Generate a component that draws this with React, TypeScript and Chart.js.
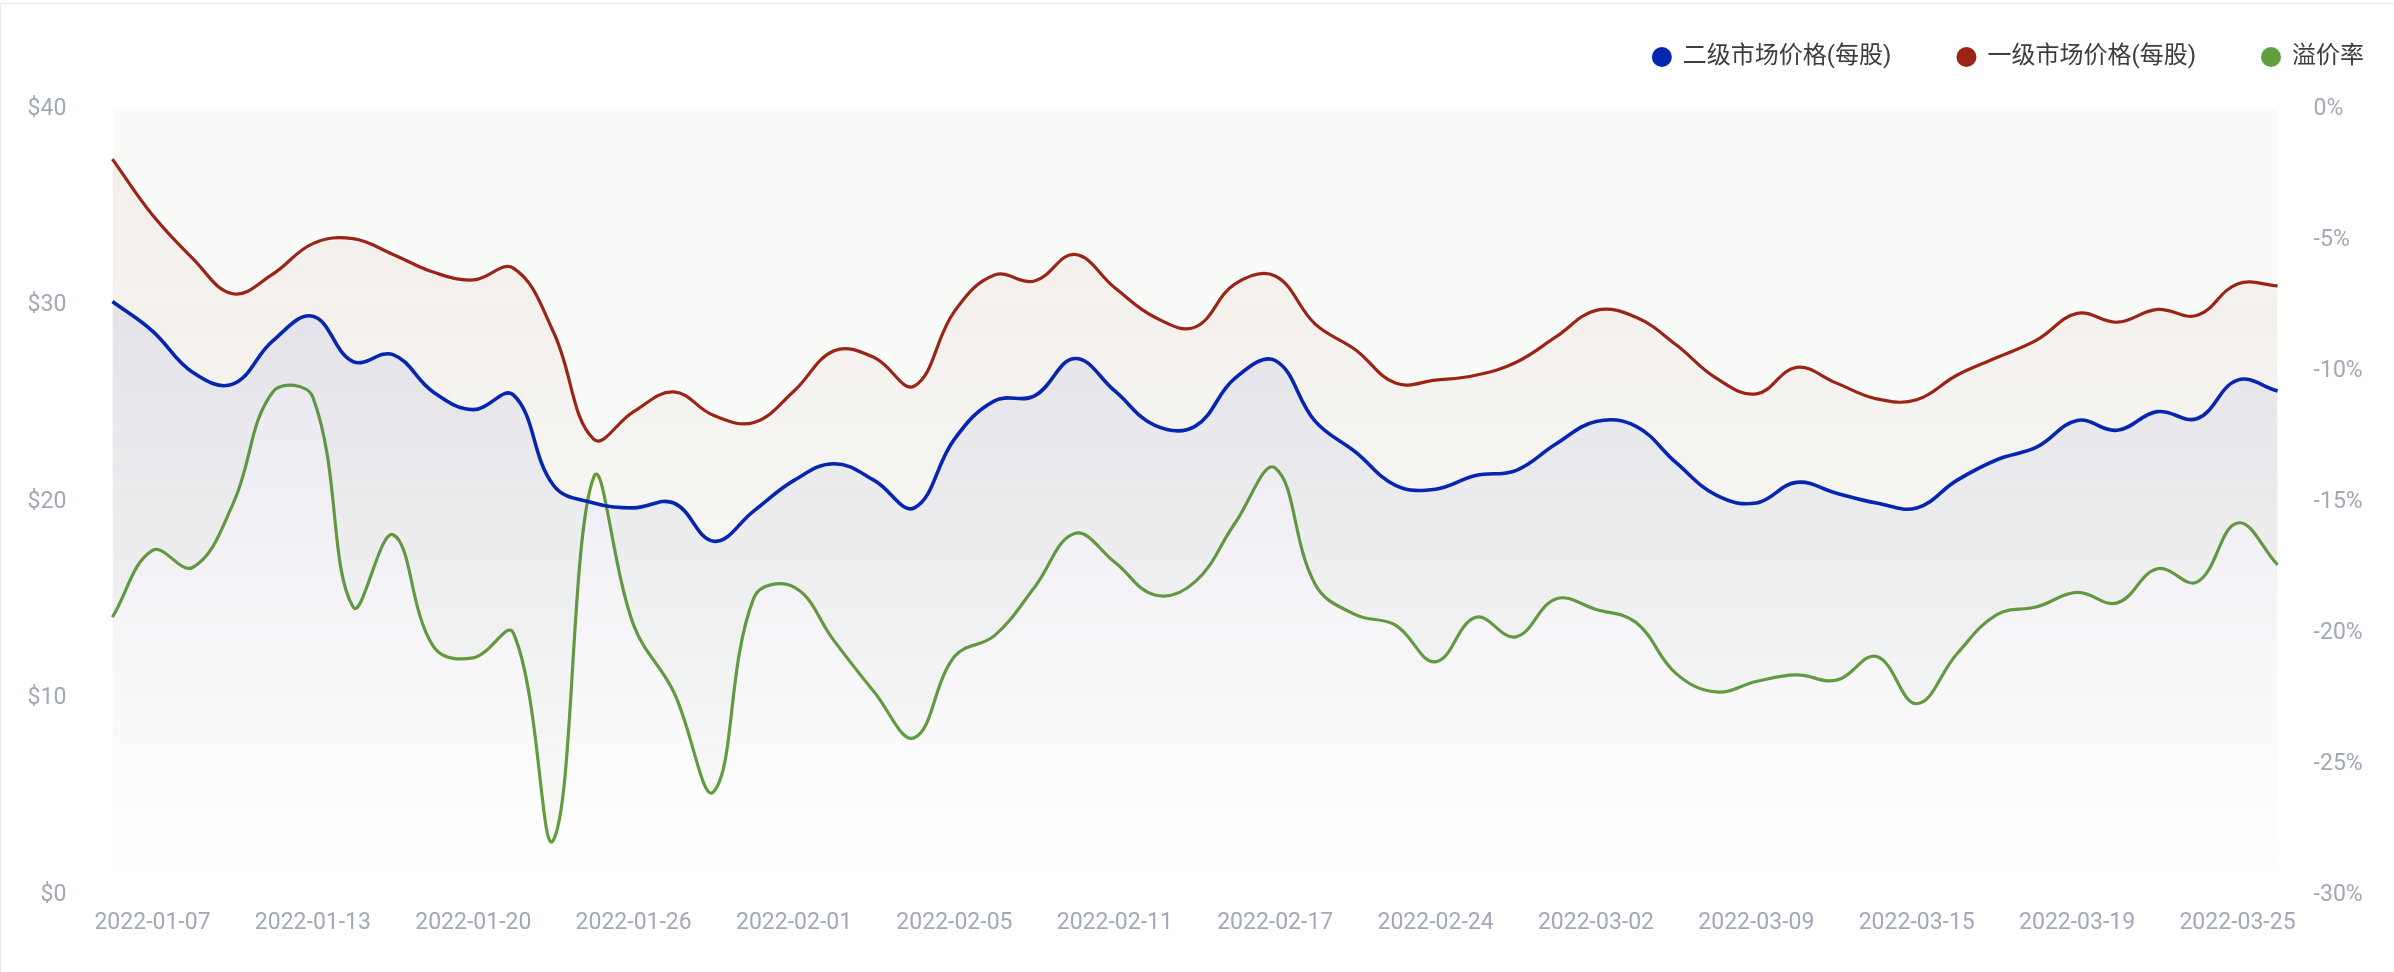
import React, { useEffect, useRef } from 'react';
import { Chart, registerables } from 'chart.js';

Chart.register(...registerables);

// ---- data ----
const dates = [
  '2022-01-06', '2022-01-07', '2022-01-10', '2022-01-11', '2022-01-12', '2022-01-13', '2022-01-14',
  '2022-01-18', '2022-01-19', '2022-01-20', '2022-01-21', '2022-01-24', '2022-01-25', '2022-01-26',
  '2022-01-27', '2022-01-28', '2022-01-31', '2022-02-01', '2022-02-02', '2022-02-03', '2022-02-04',
  '2022-02-05', '2022-02-07', '2022-02-08', '2022-02-10', '2022-02-11', '2022-02-14', '2022-02-15',
  '2022-02-16', '2022-02-17', '2022-02-18', '2022-02-22', '2022-02-23', '2022-02-24', '2022-02-25',
  '2022-02-28', '2022-03-01', '2022-03-02', '2022-03-03', '2022-03-04', '2022-03-08', '2022-03-09',
  '2022-03-10', '2022-03-11', '2022-03-14', '2022-03-15', '2022-03-16', '2022-03-17', '2022-03-18',
  '2022-03-19', '2022-03-21', '2022-03-22', '2022-03-23', '2022-03-25', '2022-03-28',
];

// 二级市场价格(每股)
const secondaryPrice = [
  30.2, 28.7, 26.6, 26.0, 28.2, 29.45, 27.15, 27.5, 25.6, 24.7, 25.45,
  20.85, 19.95, 19.7, 19.95, 18.0, 19.55, 21.1, 21.95, 21.1, 19.7, 23.2,
  25.15, 25.4, 27.3, 25.65, 23.9, 23.85, 26.3, 27.2, 24.1, 22.55, 20.85,
  20.65, 21.35, 21.6, 22.95, 24.1, 23.85, 22.0, 20.35, 19.95, 21.0, 20.45,
  19.95, 19.7, 21.1, 22.15, 22.8, 24.15, 23.65, 24.6, 24.25, 26.2, 25.65,
];

// 一级市场价格(每股)
const primaryPrice = [
  37.45, 34.6, 32.4, 30.6, 31.6, 33.15, 33.4, 32.6, 31.7, 31.3, 31.9,
  28.65, 23.2, 24.6, 25.6, 24.4, 24.05, 25.65, 27.7, 27.35, 25.9, 29.7,
  31.55, 31.25, 32.6, 30.9, 29.4, 28.9, 31.1, 31.5, 29.05, 27.75, 26.05,
  26.2, 26.45, 27.1, 28.4, 29.75, 29.4, 28.0, 26.3, 25.5, 26.85, 26.05,
  25.25, 25.2, 26.45, 27.35, 28.25, 29.6, 29.15, 29.8, 29.5, 31.1, 31.0,
];

// 溢价率 (%)
const premiumRate = [
  -19.4, -16.85, -17.5, -15.1, -10.8, -11.0, -19.0, -16.25, -20.5, -20.95, -20.0,
  -27.9, -14.07, -19.7, -22.25, -26.05, -18.65, -18.25, -20.3, -22.25, -24.0, -20.9,
  -20.1, -18.25, -16.2, -17.3, -18.55, -18.05, -15.8, -13.7, -18.15, -19.3, -19.7,
  -21.1, -19.4, -20.15, -18.7, -19.1, -19.6, -21.55, -22.25, -21.85, -21.6, -21.8,
  -20.9, -22.7, -20.8, -19.3, -19.0, -18.45, -18.85, -17.55, -18.05, -15.8, -17.4,
];

const seriesNames = ['二级市场价格(每股)', '一级市场价格(每股)', '溢价率'];
const priceAxis = { min: 0, max: 40, step: 10 };
const rateAxis = { min: -30, max: 0, step: 5 };
const labelEvery = 4;
const labelStart = 1;

// ---- styles ----
const BLUE = '#0626b0';
const RED = '#9b2417';
const GREEN = '#629e3e';
const TICK_COLOR = '#a3a8b6';
const FONT = "Roboto, 'Noto Sans CJK SC', sans-serif";

const legendSpacer = {
  id: 'legendSpacer',
  beforeInit(chart: any) {
    const legend = chart.legend;
    if (!legend) return;
    const origFit = legend.fit;
    legend.fit = function () {
      origFit.call(this);
      this.height += 30;
    };
  },
};

function vGradient(rgb: string, topAlpha: number) {
  return (ctx: any) => {
    const chart = ctx.chart;
    const area = chart.chartArea;
    if (!area) return 'rgba(0,0,0,0)';
    const g = chart.ctx.createLinearGradient(0, area.top, 0, area.bottom);
    g.addColorStop(0, `rgba(${rgb},${topAlpha})`);
    g.addColorStop(0.85, `rgba(${rgb},${topAlpha * 0.1})`);
    g.addColorStop(1, `rgba(${rgb},0)`);
    return g;
  };
}

export default function App() {
  const canvasRef = useRef<HTMLCanvasElement | null>(null);

  useEffect(() => {
    if (!canvasRef.current) return;
    const chart = new Chart(canvasRef.current, {
      type: 'line',
      data: {
        labels: dates,
        datasets: [
          {
            label: seriesNames[0],
            data: secondaryPrice,
            yAxisID: 'y',
            borderColor: BLUE,
            borderWidth: 3.6,
            pointBackgroundColor: BLUE,
            pointBorderColor: BLUE,
            pointBorderWidth: 0,
            pointRadius: 0,
            tension: 0.4,
            fill: 'origin',
            backgroundColor: vGradient('60,80,190', 0.12),
          },
          {
            label: seriesNames[1],
            data: primaryPrice,
            yAxisID: 'y',
            borderColor: RED,
            borderWidth: 3.2,
            pointBackgroundColor: RED,
            pointBorderColor: RED,
            pointBorderWidth: 0,
            pointRadius: 0,
            tension: 0.4,
            fill: 'origin',
            backgroundColor: vGradient('155,50,30', 0.065),
          },
          {
            label: seriesNames[2],
            data: premiumRate,
            yAxisID: 'y1',
            borderColor: GREEN,
            borderWidth: 3.2,
            pointBackgroundColor: GREEN,
            pointBorderColor: GREEN,
            pointBorderWidth: 0,
            pointRadius: 0,
            tension: 0.4,
            fill: 'end',
            backgroundColor: 'rgba(120,160,95,0.045)',
          },
        ],
      },
      options: {
        animation: false,
        responsive: false,
        maintainAspectRatio: false,
        events: [],
        layout: { padding: { top: -21, left: 0, right: -36, bottom: 0 } },
        plugins: {
          tooltip: { enabled: false },
          legend: {
            display: true,
            position: 'top',
            align: 'end',
            labels: {
              usePointStyle: true,
              pointStyle: 'circle',
              boxWidth: 18,
              boxHeight: 14.14,
              padding: 66,
              color: '#3d3d3d',
              font: { family: FONT, size: 24 },
            },
          },
        },
        scales: {
          x: {
            type: 'category',
            offset: false,
            grid: { display: false, drawTicks: false },
            border: { display: false },
            ticks: {
              autoSkip: false,
              maxRotation: 0,
              minRotation: 0,
              padding: 14,
              color: TICK_COLOR,
              font: { family: FONT, size: 23 },
              callback: (_v: any, i: number) =>
                (i - labelStart) % labelEvery === 0 && i >= labelStart ? dates[i] : null,
            },
            afterFit: (s: any) => {
              s.height = 77;
            },
          },
          y: {
            position: 'left',
            min: priceAxis.min,
            max: priceAxis.max,
            grid: { display: false, drawTicks: false },
            border: { display: false },
            ticks: {
              stepSize: priceAxis.step,
              padding: 46,
              color: TICK_COLOR,
              font: { family: FONT, size: 23 },
              callback: (v: any) => '$' + v,
            },
            afterFit: (s: any) => {
              s.width = 112.4;
            },
          },
          y1: {
            position: 'right',
            min: rateAxis.min,
            max: rateAxis.max,
            grid: { display: false, drawTicks: false },
            border: { display: false },
            ticks: {
              stepSize: rateAxis.step,
              padding: 36,
              color: TICK_COLOR,
              font: { family: FONT, size: 23 },
              callback: (v: any) => v + '%',
            },
            afterFit: (s: any) => {
              s.width = 152.4;
            },
          },
        },
      },
      plugins: [legendSpacer],
    } as any);
    return () => chart.destroy();
  }, []);

  return (
    <div
      style={{
        position: 'absolute',
        left: 0,
        top: 0,
        width: 2394,
        height: 972,
        overflow: 'hidden',
        background: '#ffffff',
      }}
    >
      <div style={{ position: 'absolute', left: 0, top: 3, width: 2394, height: 1, background: '#e6e8ec' }} />
      <div style={{ position: 'absolute', left: 0, top: 3, width: 1, height: 969, background: '#e6e8ec' }} />
      <canvas
        ref={canvasRef}
        width={2394}
        height={972}
        style={{ position: 'absolute', left: 0, top: 0, width: 2394, height: 972 }}
      />
    </div>
  );
}
